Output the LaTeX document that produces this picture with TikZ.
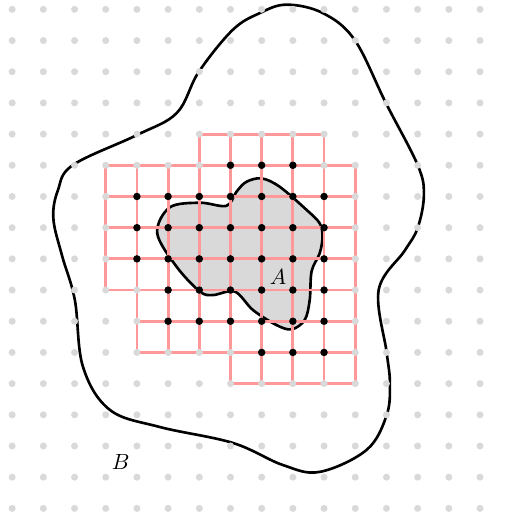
\documentclass[tikz,border=0pt]{standalone}
\usepackage{amsmath,amssymb}
\usepackage{xcolor}
\usepackage{tikz}
\usetikzlibrary{positioning}
\definecolor{cInk}{HTML}{000000}
\definecolor{cDot}{HTML}{D9D9D9}
\definecolor{cCell}{HTML}{FF9999}
\definecolor{cFill}{HTML}{D9D9D9}
\tikzset{
  blob/.style={draw=cInk,line width=1.2pt,line join=round},
  cellgrid/.style={draw=cCell,line width=1.3pt,step=1},
  gdot/.style={fill=cDot},
  idot/.style={fill=cInk},
  setlab/.style={font=\normalsize,text=cInk,inner sep=1pt},
}

\begin{document}
\begin{tikzpicture}[x=0.5cm,y=0.5cm]
  \useasboundingbox (-0.39,-0.18) rectangle (15.95,16.30);
  % set A
  \draw[blob,fill=cFill] plot[smooth cycle,tension=0.55] coordinates {
    (8.00,10.58) (8.58,10.31) (9.44,9.57) (9.86,9.14) (9.95,8.71) (9.86,8.18)
    (9.60,7.60) (9.54,6.68) (9.38,6.04) (8.96,5.74) (8.47,5.88) (7.72,6.36)
    (7.14,6.95) (6.44,6.84) (6.02,6.95) (5.27,7.75) (4.65,8.82) (5.05,9.65)
    (6.02,9.80) (6.87,9.70) (7.19,10.15) (7.51,10.47)};
  % set B
  \draw[blob] plot[smooth cycle,tension=0.6] coordinates {
    (7.94,15.88) (8.80,16.15) (9.96,15.88) (10.98,15.02) (11.98,13.00)
    (13.00,11.01) (13.20,10.05) (13.00,8.99) (12.59,8.27) (11.75,7.00)
    (12.01,4.98) (12.11,4.02) (12.01,3.00) (11.37,1.88) (9.86,1.17)
    (8.68,1.39) (7.07,2.10) (4.73,2.61) (3.13,3.16) (2.27,4.54)
    (2.01,6.68) (1.60,8.10) (1.32,9.30) (1.47,10.21) (1.95,11.01) (4.00,11.97)
    (5.28,12.68) (5.98,13.99) (7.07,15.34)};
  % covering cells
  \draw[cellgrid] (6,11) grid (10,12);
  \draw[cellgrid] (3,7) grid (11,11);
  \draw[cellgrid] (4,5) grid (11,7);
  \draw[cellgrid] (7,4) grid (11,5);
  % lattice
  \foreach \i in {0,...,15}
    \foreach \j in {0,...,16}
      \fill[gdot] (\i,\j) circle (1.6pt);
  % interior points
  \foreach \j/\a/\b in {11/7/9,10/4/10,9/4/10,8/4/10,7/5/10,6/5/10,5/8/10}
    \foreach \i in {\a,...,\b}
      \fill[idot] (\i,\j) circle (1.7pt);
  \node[setlab] (labA) at (8.53,7.43) {$A$};
  \node[setlab] (labB) at (3.48,1.49) {$B$};
\end{tikzpicture}
\end{document}
